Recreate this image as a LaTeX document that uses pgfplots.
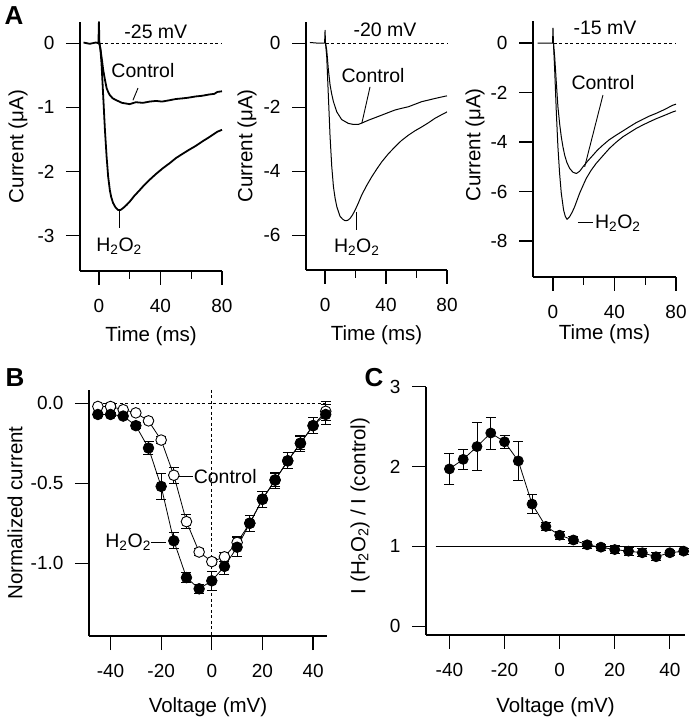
\documentclass[border=0pt]{standalone}
\usepackage{fontspec}
\setmainfont{Liberation Sans}
\usepackage{pgfplots}
\usepackage{pgfplotstable}
\pgfplotsset{compat=1.18}

\pgfplotstableread{
v c ce h he
-45 -0.02 0.01 -0.07 0.01
-40 -0.02 0.01 -0.07 0.01
-35 -0.04 0.01 -0.08 0.01
-30 -0.06 0.01 -0.14 0.02
-25 -0.11 0.01 -0.28 0.04
-20 -0.23 0.02 -0.52 0.08
-15 -0.45 0.05 -0.86 0.05
-10 -0.74 0.045 -1.09 0.03
-5 -0.93 0.02 -1.16 0.03
0 -0.99 0.02 -1.11 0.06
5 -0.96 0.03 -1.02 0.05
10 -0.87 0.04 -0.90 0.06
15 -0.75 0.05 -0.75 0.05
20 -0.60 0.05 -0.60 0.05
25 -0.48 0.05 -0.48 0.04
30 -0.36 0.05 -0.36 0.05
35 -0.25 0.05 -0.25 0.04
40 -0.14 0.05 -0.14 0.05
45 -0.05 0.06 -0.07 0.06
}\tabB

\pgfplotstableread{
v r re
-40 1.97 0.19
-35 2.09 0.13
-30 2.25 0.30
-25 2.42 0.20
-20 2.31 0.08
-15 2.07 0.25
-10 1.53 0.12
-5 1.25 0.05
0 1.14 0.05
5 1.08 0.04
10 1.02 0.04
15 0.99 0.04
20 0.96 0.05
25 0.94 0.05
30 0.92 0.05
35 0.87 0.05
40 0.92 0.03
45 0.94 0.04
}\tabC

\pgfplotsset{
  panel/.style={
    scale only axis,
    anchor=south west,
    axis lines*=left,
    axis line style={line width=1.2pt,-},
    tick align=outside,
    tick style={line width=1.2pt,black},
    major tick length=14pt,
    minor tick length=8pt,
    tick label style={font=\fontsize{19}{21}\selectfont},
    xticklabel style={yshift=-11pt},
    yticklabel style={xshift=-8pt},
    label style={font=\fontsize{20.5}{23}\selectfont},
    /pgf/number format/assume math mode=true,
    clip=false,
  },
}
\tikzset{
  trace/.style={black,line width=1pt,line join=round},
  note/.style={font=\fontsize{19.5}{22}\selectfont,inner sep=1pt},
  zero/.style={black,line width=0.8pt,dash pattern=on 3pt off 2.5pt},
  lead/.style={black,line width=0.9pt},
}

\begin{document}
\begin{tikzpicture}
\path[use as bounding box] (0,0) rectangle (696pt,720pt);

\node[font=\bfseries\fontsize{26}{28}\selectfont] at (14pt,704pt) {A};
\node[font=\bfseries\fontsize{26}{28}\selectfont] at (15pt,342pt) {B};
\node[font=\bfseries\fontsize{26}{28}\selectfont] at (374pt,342pt) {C};

% A, -25 mV
\begin{axis}[panel, at={(80pt,449pt)}, width=142pt, height=249pt,
  xmin=-12.3, xmax=80, ymin=-3.55, ymax=0.33,
  xtick={0,40,80}, minor xtick={20,60}, ytick={-3,-2,-1,0},
  xlabel={Time (ms)}, ylabel={Current (μA)},
  xlabel style={at={(axis description cs:0.5,-0.26)},anchor=center},
  ylabel style={at={(axis description cs:-0.437,0.5)},anchor=center}]
\draw[zero] (axis cs:0.5,0) -- (axis cs:80,0);
\addplot[trace,no marks,line width=1.8pt] coordinates {(-10,0.01) (-6,-0.01) (-2,0.01) (-0.3,0) (0,0.33) (0.3,0) (1.1,-0.11) (2,-0.27) (2.8,-0.42) (4,-0.58) (5,-0.70) (6,-0.76) (7.1,-0.81) (9,-0.86) (11.4,-0.89) (15,-0.93) (20,-0.95) (24,-0.92) (28.6,-0.93) (33,-0.91) (37.2,-0.90) (41,-0.91) (45.8,-0.89) (50,-0.87) (54.4,-0.86) (58,-0.85) (63,-0.83) (67,-0.82) (71.6,-0.80) (75,-0.79) (77,-0.76) (80,-0.75)};
\addplot[trace,no marks,line width=1.8pt] coordinates {(0.3,0) (1,-0.1) (1.7,-0.32) (2.8,-0.83) (3.9,-1.35) (5,-1.77) (6,-2.08) (7.1,-2.29) (8,-2.40) (9.2,-2.49) (10.8,-2.56) (12.5,-2.60) (14,-2.60) (15.7,-2.57) (18,-2.52) (20,-2.47) (23,-2.38) (26.5,-2.29) (29.5,-2.21) (32.9,-2.13) (37,-2.04) (41.5,-1.95) (46,-1.87) (50.1,-1.79) (54,-1.73) (58.7,-1.66) (63,-1.60) (67.3,-1.53) (72,-1.46) (77,-1.38) (80,-1.35)};
\node[note] at (axis cs:37,0.17) {-25 mV};
\node[note] at (axis cs:28.6,-0.42) {Control};
\draw[lead] (axis cs:25.4,-0.70) -- (axis cs:22.1,-0.89);
\node[note] at (axis cs:13.1,-3.17) {H\textsubscript{2}O\textsubscript{2}};
\draw[lead] (axis cs:13.1,-2.62) -- (axis cs:13.1,-2.88);
\end{axis}

% A, -20 mV
\begin{axis}[panel, at={(306pt,450pt)}, width=141pt, height=248pt,
  xmin=-12.5, xmax=80, ymin=-7.09, ymax=0.66,
  xtick={0,40,80}, minor xtick={20,60}, ytick={-6,-4,-2,0},
  xlabel={Time (ms)}, ylabel={Current (μA)},
  xlabel style={at={(axis description cs:0.5,-0.262)},anchor=center},
  ylabel style={at={(axis description cs:-0.418,0.5)},anchor=center}]
\draw[zero] (axis cs:0.5,0) -- (axis cs:80,0);
\addplot[trace,no marks] coordinates {(-10,0.02) (-5,0) (-0.3,0) (0,0.4) (0.3,0) (1.1,-0.22) (2.2,-0.84) (3.3,-1.31) (4.4,-1.6) (5.5,-1.83) (7.7,-2.15) (10.9,-2.39) (15.3,-2.51) (18.5,-2.54) (21.9,-2.54) (25,-2.48) (28.4,-2.41) (32.8,-2.33) (37.2,-2.25) (41.5,-2.17) (45.9,-2.09) (50,-2.04) (54.6,-1.99) (59,-1.91) (63.4,-1.83) (67.8,-1.78) (72.1,-1.73) (78.7,-1.66) (80,-1.65)};
\addplot[trace,no marks] coordinates {(0.3,0) (1.1,-0.43) (2.2,-1.68) (3.3,-2.93) (4.4,-3.86) (5.5,-4.49) (6.6,-4.85) (7.7,-5.11) (9.8,-5.41) (11.5,-5.50) (13.1,-5.55) (14.8,-5.54) (16.4,-5.48) (18,-5.37) (19.7,-5.22) (22,-4.98) (24,-4.75) (27.3,-4.45) (30.6,-4.18) (34,-3.93) (37.2,-3.71) (41.5,-3.46) (45.9,-3.24) (50,-3.05) (54.6,-2.88) (59,-2.74) (63.4,-2.62) (67.8,-2.49) (72.1,-2.35) (76,-2.25) (80,-2.15)};
\node[note] at (axis cs:39.3,0.41) {-20 mV};
\node[note] at (axis cs:31.5,-1.0) {Control};
\draw[lead] (axis cs:29.5,-1.37) -- (axis cs:24.1,-2.51);
\node[note] at (axis cs:20.8,-6.37) {H\textsubscript{2}O\textsubscript{2}};
\draw[lead] (axis cs:20.8,-5.27) -- (axis cs:20.8,-5.84);
\end{axis}

% A, -15 mV
\begin{axis}[panel, at={(533pt,443pt)}, width=143pt, height=256pt,
  xmin=-13, xmax=80, ymin=-9.45, ymax=0.89,
  xtick={0,40,80}, minor xtick={20,60}, ytick={-8,-6,-4,-2,0},
  xlabel={Time (ms)}, ylabel={Current (μA)},
  xlabel style={at={(axis description cs:0.5,-0.222)},anchor=center},
  ylabel style={at={(axis description cs:-0.406,0.516)},anchor=center}]
\draw[zero] (axis cs:0.5,0) -- (axis cs:80,0);
\addplot[trace,no marks] coordinates {(-10,0) (-0.3,0) (0,0.6) (0.3,0) (1.1,-0.55) (2.2,-1.63) (3.2,-2.57) (4.3,-3.25) (5.4,-3.79) (6.5,-4.2) (7.6,-4.53) (9,-4.82) (10.8,-5.06) (13,-5.22) (15.2,-5.27) (17.3,-5.18) (19.5,-5.0) (22.5,-4.77) (26,-4.53) (29,-4.32) (32.5,-4.12) (36.5,-3.91) (41.1,-3.72) (45.5,-3.55) (49.8,-3.38) (54,-3.22) (58.4,-3.08) (62.7,-2.95) (67.1,-2.84) (72,-2.70) (78,-2.51) (80,-2.47)};
\addplot[trace,no marks] coordinates {(0.3,0) (1.1,-1.09) (2.2,-2.84) (3.2,-4.19) (4.3,-5.27) (5.4,-6.07) (6.9,-6.75) (8,-7.0) (9.1,-7.12) (10.8,-7.02) (12.5,-6.83) (14.1,-6.61) (17.3,-6.07) (19.5,-5.76) (21.6,-5.47) (24.8,-5.14) (28.1,-4.86) (32.5,-4.55) (36.8,-4.25) (41,-4.01) (45.4,-3.79) (50,-3.61) (54.1,-3.45) (58.4,-3.31) (62.8,-3.18) (67,-3.06) (71.4,-2.95) (78,-2.78) (80,-2.74)};
\node[note] at (axis cs:33.8,0.61) {-15 mV};
\node[note] at (axis cs:32.5,-1.58) {Control};
\draw[lead] (axis cs:32.5,-2.1) -- (axis cs:20.6,-5.0);
\draw[lead] (axis cs:16.2,-7.26) -- (axis cs:26,-7.26);
\node[note,anchor=west] at (axis cs:26.6,-7.26) {H\textsubscript{2}O\textsubscript{2}};
\end{axis}

% B
\begin{axis}[panel, at={(89pt,84pt)}, width=238pt, height=246pt,
  xmin=-48.5, xmax=45.5, ymin=-1.455, ymax=0.083,
  xtick={-40,-20,0,20,40}, ytick={-1,-0.5,0}, yticklabels={-1.0,-0.5,0.0},
  xlabel={Voltage (mV)}, ylabel={Normalized current},
  xlabel style={at={(axis description cs:0.5,-0.289)},anchor=center},
  ylabel style={at={(axis description cs:-0.311,0.5)},anchor=center}]
\draw[zero] (axis cs:-45,0) -- (axis cs:45,0);
\draw[zero] (axis cs:0,0.083) -- (axis cs:0,-1.455);
\addplot[black,line width=0.8pt,mark=*,mark size=5.3pt,mark options={fill=white,line width=0.9pt},
  error bars/.cd,y dir=both,y explicit,error bar style={line width=0.9pt},
  error mark options={rotate=90,mark size=5pt,line width=0.9pt}]
  table[x=v,y=c,y error=ce] {\tabB};
\addplot[black,line width=0.8pt,mark=*,mark size=5.3pt,mark options={fill=black},
  error bars/.cd,y dir=both,y explicit,error bar style={line width=0.9pt},
  error mark options={rotate=90,mark size=5pt,line width=0.9pt}]
  table[x=v,y=h,y error=he] {\tabB};
\draw[lead] (axis cs:-13,-0.459) -- (axis cs:-7.5,-0.459);
\node[note,anchor=west] at (axis cs:-7.6,-0.459) {Control};
\draw[lead] (axis cs:-23.9,-0.87) -- (axis cs:-18,-0.87);
\node[note,anchor=east] at (axis cs:-23.6,-0.87) {H\textsubscript{2}O\textsubscript{2}};
\end{axis}

% C
\begin{axis}[panel, at={(426pt,85pt)}, width=259pt, height=248.3pt,
  xmin=-48.5, xmax=45.5, ymin=-0.11, ymax=3,
  xtick={-40,-20,0,20,40}, ytick={0,1,2,3},
  xlabel={Voltage (mV)}, ylabel={I (H\textsubscript{2}O\textsubscript{2}) / I (control)},
  xlabel style={at={(axis description cs:0.5,-0.29)},anchor=center},
  ylabel style={at={(axis description cs:-0.255,0.52)},anchor=center}]
\draw[black,line width=0.8pt] (axis cs:-45,1) -- (axis cs:45,1);
\addplot[black,line width=0.8pt,mark=*,mark size=5pt,mark options={fill=black},
  error bars/.cd,y dir=both,y explicit,error bar style={line width=0.9pt},
  error mark options={rotate=90,mark size=5pt,line width=0.9pt}]
  table[x=v,y=r,y error=re] {\tabC};
\end{axis}
\end{tikzpicture}
\end{document}
